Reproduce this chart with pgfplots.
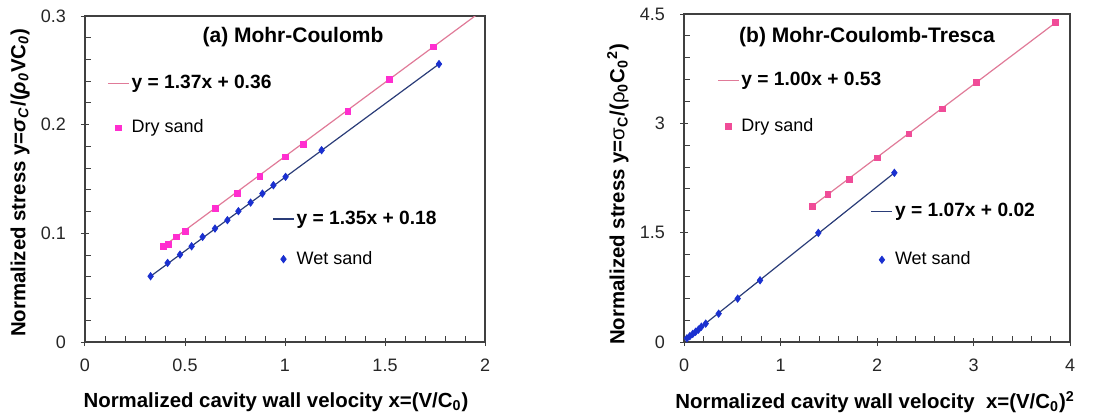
\documentclass[border=0pt]{standalone}
\usepackage{fontspec}
\setmainfont{Liberation Sans}
\usepackage{pgfplots}
\pgfplotsset{compat=1.18}
\definecolor{dryM}{HTML}{FF2ECF}
\definecolor{dryB}{HTML}{F04C98}
\definecolor{dryL}{HTML}{E07A98}
\definecolor{wetM}{HTML}{1A30D0}
\definecolor{wetL}{HTML}{2A3C78}
\definecolor{axgray}{HTML}{404040}
\newcommand{\fs}{\fontsize{9}{10.5}\selectfont}
\newcommand{\fl}{\fontsize{10.2}{12}\selectfont}
\newcommand{\fe}{\fontsize{9.6}{11}\selectfont}
\pgfplotsset{
  myax/.style={scale only axis,
    font=\fs,
    axis line style={axgray, line width=0.75pt},
    tick style={axgray, line width=0.5pt},
    tick align=center,
    major tick length=4pt, minor tick length=3pt,
    minor x tick style={yshift=1.5pt},
    minor y tick style={xshift=1.5pt},
    xtick pos=left, ytick pos=left,
    /pgf/number format/assume math mode=true,
    /pgf/number format/fixed,
    ticklabel style={font=\fs, text=black!85},
    yticklabel style={xshift=-4pt},
    xticklabel style={yshift=-3pt},
    label style={font=\fl\bfseries},
    clip=true},
  hidax/.style={scale only axis, hide axis, clip=true},
  trendleg/.style={legend image code/.code={\draw[##1] (0pt,0pt) -- (10.5pt,0pt);}},
  markleg/.style={legend image code/.code={\draw[mark repeat=2,mark phase=2,##1] plot coordinates {(0pt,0pt) (5.25pt,0pt) (10.5pt,0pt)};}},
  legsty/.style={legend style={draw=none, fill=none, inner sep=0pt, font=\fs,
      nodes={inner sep=1pt, anchor=west}, row sep=11pt, legend cell align=left}}
}
\begin{document}
\begin{tikzpicture}
\useasboundingbox (0,0) rectangle (551pt,209pt);
% ---------------- Panel (a) ----------------
\begin{axis}[myax, at={(42.5pt,38pt)}, anchor=south west,
  width=200pt, height=163pt,
  xmin=0, xmax=2, ymin=0, ymax=0.3,
  xtick={0,0.5,1,1.5,2}, ytick={0,0.1,0.2,0.3},
  minor x tick num=4, minor y tick num=4,
  xlabel={Normalized cavity wall velocity x=(V/C\textsubscript{0})},
  ylabel={Normalized stress y=\textit{σ}\textsubscript{\textit{C}}/(\textit{ρ}\textsubscript{\textit{0}}VC\textsubscript{\textit{0}})},
  xlabel style={at={(axis description cs:0.4775,-0.184)}, anchor=center},
  ylabel style={at={(axis description cs:-0.1625,0.488)}, anchor=center},
  legsty, legend style={at={(0.055,0.825)}, anchor=north west, row sep=12pt}]
\addplot[dryL, line width=0.6pt, trendleg] coordinates {(0.39,0.0878) (2.0,0.3068)};
\addlegendentry{\fe\bfseries y = 1.37x + 0.36}
\addplot[only marks, mark=square*, mark size=1.4pt, color=dryM, markleg] coordinates {
(0.392,0.0881) (0.417,0.0897) (0.458,0.0967) (0.503,0.1020) (0.653,0.1228)
(0.762,0.1370) (0.875,0.1526) (1.003,0.1704) (1.092,0.1820) (1.315,0.2120)
(1.522,0.2416) (1.742,0.2717)};
\addlegendentry{Dry sand}
\node[font=\fontsize{10.5}{12}\selectfont\bfseries] at (axis cs:1.04,0.2807) {(a) Mohr-Coulomb};
\end{axis}
\begin{axis}[hidax, at={(42.5pt,38pt)}, anchor=south west,
  width=200pt, height=163pt,
  xmin=0, xmax=2, ymin=0, ymax=0.3,
  legsty, legend style={at={(0.4675,0.41)}, anchor=north west, row sep=10pt}]
\addplot[wetL, line width=0.6pt, trendleg] coordinates {(0.328,0.0605) (1.77,0.2558)};
\addlegendentry{\fe\bfseries y = 1.35x + 0.18}
\addplot[only marks, mark=diamond*, mark size=1.8pt, color=wetM, markleg] coordinates {
(0.328,0.0605) (0.413,0.0728) (0.475,0.0804) (0.533,0.0881) (0.588,0.0967)
(0.650,0.1044) (0.712,0.1121) (0.767,0.1204) (0.828,0.1283) (0.887,0.1366)
(0.942,0.1443) (1.003,0.1520) (1.183,0.1765) (1.770,0.2558)};
\addlegendentry{Wet sand}
\end{axis}
% ---------------- Panel (b) ----------------
\begin{axis}[myax, at={(342pt,38pt)}, anchor=south west,
  width=193pt, height=164pt,
  xmin=0, xmax=4, ymin=0, ymax=4.5,
  xtick={0,1,2,3,4}, ytick={0,1.5,3,4.5},
  minor x tick num=4, minor y tick num=4,
  xlabel={Normalized cavity wall velocity\ \ x=(V/C\textsubscript{0})\textsuperscript{2}},
  ylabel={Normalized stress y={\mdseries σ}\textsubscript{C}/({\mdseries ρ}\textsubscript{0}C\textsubscript{0}\textsuperscript{2})},
  xlabel style={at={(axis description cs:0.495,-0.184)}, anchor=center},
  ylabel style={at={(axis description cs:-0.171,0.45)}, anchor=center},
  legsty, legend style={at={(0.085,0.83)}, anchor=north west, row sep=13pt}]
\addplot[dryL, line width=0.6pt, trendleg] coordinates {(1.33,1.864) (3.851,4.382)};
\addlegendentry{\fe\bfseries y = 1.00x + 0.53}
\addplot[only marks, mark=square*, mark size=1.4pt, color=dryB, markleg] coordinates {
(1.330,1.864) (1.489,2.024) (1.713,2.230) (2.007,2.527) (2.332,2.853)
(2.680,3.196) (3.033,3.558) (3.851,4.382)};
\addlegendentry{Dry sand}
\node[font=\fontsize{10.5}{12}\selectfont\bfseries] at (axis cs:1.896,4.18) {(b) Mohr-Coulomb-Tresca};
\end{axis}
\begin{axis}[hidax, at={(342pt,38pt)}, anchor=south west,
  width=193pt, height=164pt,
  xmin=0, xmax=4, ymin=0, ymax=4.5,
  legsty, legend style={at={(0.483,0.43)}, anchor=north west, row sep=14pt}]
\addplot[wetL, line width=0.6pt, trendleg] coordinates {(0.02,0.04) (2.18,2.321)};
\addlegendentry{\fe\bfseries y = 1.07x + 0.02}
\addplot[only marks, mark=diamond*, mark size=1.8pt, color=wetM, markleg] coordinates {
(0.03,0.05) (0.06,0.08) (0.09,0.11) (0.12,0.14) (0.15,0.17) (0.18,0.21)
(0.225,0.252) (0.359,0.389) (0.556,0.595) (0.788,0.847) (1.392,1.497) (2.180,2.321)};
\addlegendentry{Wet sand}
\end{axis}
\end{tikzpicture}
\end{document}
